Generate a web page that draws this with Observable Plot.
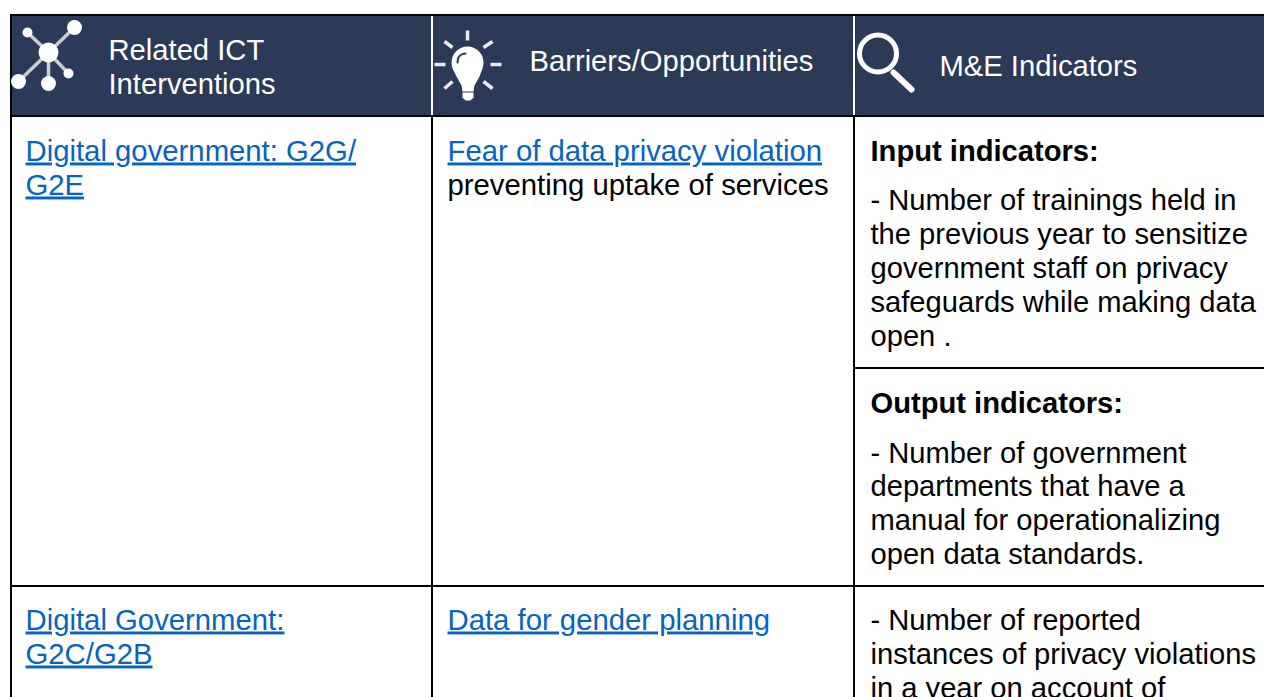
<!DOCTYPE html>
<html>
<head>
<meta charset="utf-8">
<script src="https://cdn.jsdelivr.net/npm/d3@7"></script>
<script src="https://cdn.jsdelivr.net/npm/@observablehq/plot@0.6"></script>
<style>
html,body{margin:0;padding:0;background:#fff;overflow:hidden}
svg{display:block}
</style>
</head>
<body>
<div id="chart"></div>
<script>
// Table content
const headerLabels = [
  {text:"Related ICT", col:0, base:59},
  {text:"Interventions", col:0, base:93},
  {text:"Barriers/Opportunities", col:1, base:70},
  {text:"M&E Indicators", col:2, base:75}
];
const linkLines = [
  {text:"Digital government: G2G/", col:0, base:160},
  {text:"G2E", col:0, base:194},
  {text:"Fear of data privacy violation", col:1, base:160},
  {text:"Digital Government:", col:0, base:629},
  {text:"G2C/G2B", col:0, base:663},
  {text:"Data for gender planning", col:1, base:629}
];
const bodyLines = [
  {text:"preventing uptake of services", col:1, base:194},
  {text:"- Number of trainings held in", col:2, base:209},
  {text:"the previous year to sensitize", col:2, base:243},
  {text:"government staff on privacy", col:2, base:277},
  {text:"safeguards while making data", col:2, base:311},
  {text:"open .", col:2, base:345},
  {text:"- Number of government", col:2, base:462},
  {text:"departments that have a", col:2, base:495},
  {text:"manual for operationalizing", col:2, base:529},
  {text:"open data standards.", col:2, base:563},
  {text:"- Number of reported", col:2, base:629},
  {text:"instances of privacy violations", col:2, base:663},
  {text:"in a year on account of", col:2, base:697}
];
const boldLines = [
  {text:"Input indicators:", col:2, base:160},
  {text:"Output indicators:", col:2, base:412}
];

// Grid layout
const headerTextX = [108, 529, 939];
const bodyTextX = [25, 447, 870];
const gridV = [{x1:10,x2:12,y1:14,y2:697},{x1:431,x2:433,y1:117,y2:697},{x1:853,x2:855,y1:117,y2:697}];
const gridH = [{x1:10,x2:1264,y1:14,y2:16},{x1:10,x2:1264,y1:115,y2:117},{x1:10,x2:1264,y1:585,y2:587},{x1:854,x2:1264,y1:367,y2:369}];
const headerFill = [{x1:12,x2:1264,y1:16,y2:115}];
const headerSeps = [{x1:431,x2:433,y1:16,y2:115},{x1:853,x2:855,y1:16,y2:115}];

// Icon glyphs
const hub = {x:48,y:52};
const netNodes = [{x:74,y:27,r:7.5},{x:27,y:32,r:5},{x:18,y:81,r:7.5},{x:48,y:83,r:7.5},{x:68,y:73,r:5},{x:48,y:52,r:10}];
const rays = [
  {x1:467,y1:30,x2:467,y2:40},{x1:444,y1:41,x2:452,y2:47},{x1:492,y1:41,x2:483,y2:47},
  {x1:434,y1:64,x2:445,y2:64},{x1:490,y1:64,x2:501,y2:64},{x1:444,y1:88,x2:452,y2:81},{x1:492,y1:88,x2:483,y2:81}
];
const bulbOutline = [[452,68],[456,76],[461,85],[462,91],[473,91],[474,85],[479,76],[482,68]].map(([x,y])=>({x,y}));
const bulbBase = [[462,92],[473,92],[473,97],[470,100],[465,100],[462,97]].map(([x,y])=>({x,y}));
const bulbGlint = [[457,62],[458,57],[461,54],[465,53]].map(([x,y])=>({x,y}));
const bulbHead = [{x:467,y:62,r:16}];
const lensRing = [{x:877.5,y:53,r:18.5}];
const lensHandle = [{x1:893,y1:72,x2:911,y2:89}];

const font = "Liberation Sans, Arial, sans-serif";
const navy = "#2a3a57";
const at = (xs) => (d) => xs[d.col];
const underline = (index, scales, values, dims, ctx, next) => {
  const g = next(index, scales, values, dims, ctx);
  g.setAttribute("text-decoration", "underline");
  g.style.textDecorationThickness = "2.7px";
  return g;
};
const soft = (index, scales, values, dims, ctx, next) => {
  const g = next(index, scales, values, dims, ctx);
  g.style.filter = "blur(0.5px)";
  return g;
};
const bodySize = (d) => d.col === 1 ? 29.3 : 29.15;

const chart = Plot.plot({
  width: 1264, height: 697,
  margin: 0,
  x: {type:"identity", axis:null},
  y: {type:"identity", axis:null},
  r: {type:"identity"},
  style: {fontFamily: font, background:"#fff"},
  marks: [
    Plot.rect(headerFill,{x1:"x1",x2:"x2",y1:"y1",y2:"y2",fill:navy}),
    Plot.rect(headerSeps,{x1:"x1",x2:"x2",y1:"y1",y2:"y2",fill:"#fff"}),
    Plot.rect(gridV,{x1:"x1",x2:"x2",y1:"y1",y2:"y2",fill:"#000"}),
    Plot.rect(gridH,{x1:"x1",x2:"x2",y1:"y1",y2:"y2",fill:"#000"}),

    Plot.link(netNodes.slice(0,5),{x1:()=>hub.x,y1:()=>hub.y,x2:"x",y2:"y",stroke:"#c9cdd4",strokeWidth:3.5,render:soft}),
    Plot.dot(netNodes,{x:"x",y:"y",r:"r",fill:"#fff",render:soft}),

    Plot.link(rays,{x1:"x1",y1:"y1",x2:"x2",y2:"y2",stroke:"#e8eaee",strokeWidth:3.5,render:soft}),
    Plot.dot(bulbHead,{x:"x",y:"y",r:"r",fill:"#fff",render:soft}),
    Plot.line(bulbOutline,{x:"x",y:"y",fill:"#fff",stroke:"none",render:soft}),
    Plot.line(bulbBase,{x:"x",y:"y",fill:"#fff",stroke:"none",render:soft}),
    Plot.line(bulbGlint,{x:"x",y:"y",curve:"catmull-rom",stroke:navy,strokeWidth:2,render:soft}),

    Plot.dot(lensRing,{x:"x",y:"y",r:"r",fill:"none",stroke:"#fff",strokeWidth:5,render:soft}),
    Plot.link(lensHandle,{x1:"x1",y1:"y1",x2:"x2",y2:"y2",stroke:"#fff",strokeWidth:6,strokeLinecap:"round",render:soft}),

    Plot.text(headerLabels,{x:at(headerTextX),y:"base",text:"text",textAnchor:"start",lineAnchor:"bottom",fontSize:29.2,fill:"#fff"}),
    Plot.text(linkLines,{x:at(bodyTextX),y:"base",text:"text",textAnchor:"start",lineAnchor:"bottom",fontSize:29.3,fill:"#0563c1",render:underline}),
    Plot.text(bodyLines,{x:at(bodyTextX),y:"base",text:"text",textAnchor:"start",lineAnchor:"bottom",fontSize:bodySize,fill:"#000"}),
    Plot.text(boldLines,{x:at(bodyTextX),y:"base",text:"text",textAnchor:"start",lineAnchor:"bottom",fontSize:29.15,fontWeight:"bold",fill:"#000"})
  ]
});
document.getElementById("chart").appendChild(chart);
</script>
</body>
</html>
